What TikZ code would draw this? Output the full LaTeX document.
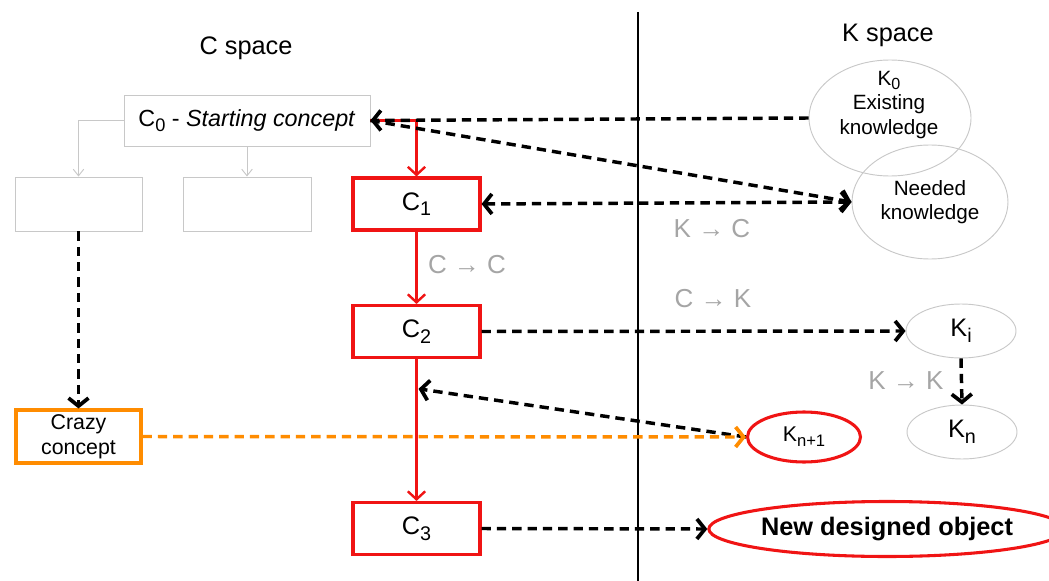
\documentclass[tikz,border=0pt]{standalone}
\usepackage{fontspec}
\setmainfont{Liberation Sans}
\usetikzlibrary{arrows.meta,shapes.geometric,calc}
\definecolor{boxgray}{RGB}{200,200,200}
\definecolor{lblgray}{RGB}{165,165,165}
\definecolor{myorange}{RGB}{255,140,0}
\definecolor{myred}{RGB}{240,20,20}
\def\u{0.75pt}
\newcommand\sbs[1]{\raisebox{-0.42ex}{\scalebox{0.78}{#1}}}
\tikzset{bigbarb/.tip={Straight Barb[length=6pt,width=15pt,line width=2.8pt]}}
\begin{document}
\begin{tikzpicture}[x=0.75pt,y=-0.75pt,
  graybox/.style={draw=boxgray,line width=0.7pt,inner sep=0pt,minimum width=127*\u,minimum height=54*\u},
  redbox/.style={draw=myred,line width=2.3pt,inner sep=0pt,minimum width=127*\u,minimum height=52*\u,font=\fontsize{19}{22}\selectfont},
  grayell/.style={draw=boxgray,line width=0.7pt,ellipse,inner sep=0pt,align=center,font=\fontsize{15.5}{18.5}\selectfont},
  redell/.style={draw=myred,line width=2.3pt,ellipse,inner sep=0pt,align=center},
  dasharrow/.style={line width=2.6pt,dash pattern=on 7pt off 4.5pt,-bigbarb},
  redarrow/.style={draw=myred,line width=1.7pt,-{Straight Barb[length=6pt,width=13pt,line width=1.8pt]}},
  grayarrow/.style={draw=boxgray,line width=0.7pt,-{Straight Barb[length=5pt,width=8pt]}},
  lbl/.style={text=lblgray,font=\fontsize{19.5}{22}\selectfont,inner sep=0pt},
  title/.style={font=\fontsize{19}{22}\selectfont,inner sep=0pt}]
\useasboundingbox (0,0) rectangle (1049,581);
% titles
\node[title] (cs) at (246,48) {C space};
\node[title] (ks) at (888,35) {K space};
% vertical separator
\coordinate (vt) at (638,12);
\coordinate (vb) at (638,581);
\draw[line width=1.9pt] (vt) -- (vb);
% C side nodes
\node[draw=boxgray,line width=0.7pt,inner sep=0pt,minimum width=246*\u,minimum height=51*\u,font=\fontsize{17.5}{21}\selectfont] (c0) at (247,120.5) {C\sbs{0} - \textit{Starting concept}};
\node[graybox] (g1) at (78.5,204) {};
\node[graybox,minimum width=128*\u] (g2) at (247,204) {};
\node[redbox] (c1) at (416.5,204) {C\sbs{1}};
\node[redbox] (c2) at (416.5,331.5) {C\sbs{2}};
\node[redbox] (c3) at (416.5,528.5) {C\sbs{3}};
\node[draw=myorange,line width=2.3pt,inner sep=0pt,minimum width=125*\u,minimum height=53*\u,align=center,font=\fontsize{16}{18.8}\selectfont] (crazy) at (78.5,436.5) {Crazy\\concept};
% K side nodes
\node[grayell,minimum width=162*\u,minimum height=116*\u] (k0) at (890,118) {};
\node[inner sep=0pt,align=center,font=\fontsize{15.5}{18.6}\selectfont] (k0t) at (889,105) {K\sbs{0}\\Existing\\knowledge};
\node[grayell,minimum width=156*\u,minimum height=114*\u] (need) at (930,202) {Needed\\knowledge};
\node[grayell,minimum width=110*\u,minimum height=54*\u,font=\fontsize{19}{22}\selectfont] (ki) at (961,331) {K\sbs{i}};
\node[grayell,minimum width=110*\u,minimum height=54*\u,font=\fontsize{19}{22}\selectfont] (kn) at (962,432) {K\sbs{n}};
\node[redell,minimum width=113*\u,minimum height=50*\u,font=\fontsize{16}{19}\selectfont] (kn1) at (804,437) {K\sbs{n+1}};
\node[redell,minimum width=320*\u,minimum height=55*\u,font=\bfseries\fontsize{19}{22}\selectfont] (ndo) at (887,529) {New designed object};
% labels
\node[lbl] (lcc) at (467,265) {C → C};
\node[lbl] (lkc) at (712,229) {K → C};
\node[lbl] (lck) at (713,299) {C → K};
\node[lbl] (lkk) at (906,381) {K → K};
% gray tree arrows
\draw[grayarrow] (c0.west) -| (g1.north);
\draw[grayarrow] (c0.south) -- (g2.north);
% red arrows
\draw[redarrow] (c0.east) -| (c1.north);
\draw[redarrow] (c1.south) -- (c2.north);
\draw[redarrow] (c2.south) -- (c3.north);
\coordinate (m) at ($(c2.south)!0.21!(c3.north)+(2,0)$);
% dashed arrows
\draw[dasharrow] (k0.west) -- (c0.east);
\draw[dasharrow] (c0.east) -- (need.west);
\draw[dasharrow,bigbarb-bigbarb] (c1.east) -- (need.west);
\draw[dasharrow] (c2.east) -- (ki.west);
\draw[dasharrow] (ki.south) -- (kn.north);
\draw[dasharrow] (kn1.west) -- (m);
\draw[dasharrow] (g1.south) -- (crazy.north);
\draw[dasharrow,draw=myorange] (crazy.east) -- (kn1.west);
\draw[dasharrow] (c3.east) -- (ndo.west);
\end{tikzpicture}
\end{document}
